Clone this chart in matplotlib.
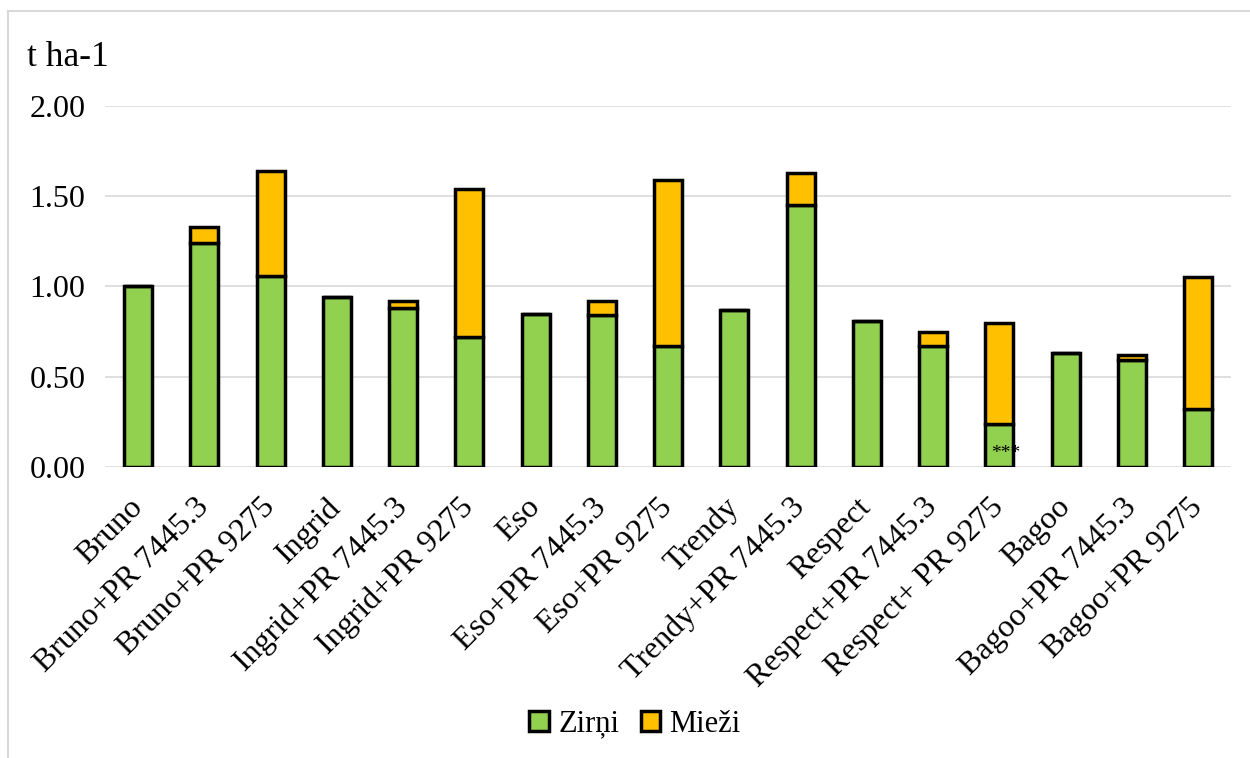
import matplotlib
matplotlib.use("Agg")
import matplotlib.pyplot as plt
from matplotlib.patches import Patch
from matplotlib.lines import Line2D
import numpy as np

# values (t ha-1)
varieties = [
    "Bruno", "Bruno+PR 7445.3", "Bruno+PR 9275",
    "Ingrid", "Ingrid+PR 7445.3", "Ingrid+PR 9275",
    "Eso", "Eso+PR 7445.3", "Eso+PR 9275",
    "Trendy", "Trendy+PR 7445.3",
    "Respect", "Respect+PR 7445.3", "Respect+ PR 9275",
    "Bagoo", "Bagoo+PR 7445.3", "Bagoo+PR 9275",
]
zirni = [1.00, 1.24, 1.06, 0.94, 0.88, 0.72, 0.85, 0.84, 0.67,
         0.87, 1.45, 0.81, 0.67, 0.24, 0.63, 0.59, 0.32]
miezi = [0.00, 0.09, 0.58, 0.00, 0.04, 0.82, 0.00, 0.08, 0.92,
         0.00, 0.18, 0.00, 0.08, 0.56, 0.00, 0.03, 0.73]
y_ticks = [0.0, 0.5, 1.0, 1.5, 2.0]
signif_idx = 13
signif_text = "***"

GREEN = "#92D050"
ORANGE = "#FFC000"
GRID = "#D9D9D9"

plt.rcParams["font.family"] = ["Liberation Serif", "DejaVu Serif"]

fig = plt.figure(figsize=(12.5, 7.58), dpi=100)
ax = fig.add_axes([0.084, 0.3839, 0.901, 0.4763])

x = np.arange(len(varieties))
w = 0.42
ax.bar(x, zirni, width=w, color=GREEN, edgecolor="black", linewidth=2.5,
       zorder=3, label="Zirņi")
ax.bar(x, miezi, width=w, bottom=zirni, color=ORANGE, edgecolor="black",
       linewidth=2.5, zorder=3, label="Mieži")

ax.set_xlim(-0.5, len(varieties) - 0.5)
ax.set_ylim(0, 2.0)
ax.set_yticks(y_ticks)
ax.set_yticklabels([f"{t:.2f}" for t in y_ticks], fontsize=23)
ax.yaxis.grid(True, color=GRID, linewidth=1.2, zorder=0)
ax.set_axisbelow(True)
ax.tick_params(axis="both", length=0)
ax.tick_params(axis="y", pad=14)
ax.tick_params(axis="x", pad=26)
for s in ax.spines.values():
    s.set_visible(False)

ax.set_xticks(x)
ax.set_xticklabels(varieties, rotation=45, ha="right", va="center",
                   rotation_mode="anchor", fontsize=23)

ax.text(signif_idx + 0.1, 0.075, signif_text, ha="center", va="center",
        fontsize=14, zorder=4)

fig.text(27 / 1250, 1 - 66 / 758, "t ha-1", fontsize=25.5, ha="left",
         va="baseline")

handles = [Patch(facecolor=GREEN, edgecolor="black", linewidth=2.5),
           Patch(facecolor=ORANGE, edgecolor="black", linewidth=2.5)]
fig.legend(handles, ["Zirņi", "Mieži"], loc="center",
           bbox_to_anchor=(0.508, 1 - 724 / 758), ncol=2, frameon=False,
           fontsize=22, handlelength=0.65, handleheight=0.65,
           handletextpad=0.3, columnspacing=0.7)

# light frame around the chart area (top and left only visible)
fig.add_artist(Line2D([8 / 1250, 1.0], [1 - 11 / 758, 1 - 11 / 758],
                      color=GRID, linewidth=1.5, transform=fig.transFigure))
fig.add_artist(Line2D([8 / 1250, 8 / 1250], [0.0, 1 - 11 / 758],
                      color=GRID, linewidth=1.5, transform=fig.transFigure))

fig.savefig("out.png", dpi=100, facecolor="white")
